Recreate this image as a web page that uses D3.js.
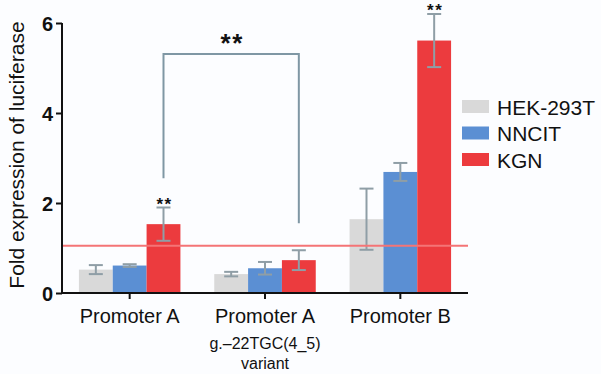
<!DOCTYPE html>
<html>
<head>
<meta charset="utf-8">
<script src="https://cdn.jsdelivr.net/npm/d3@7"></script>
<style>
  body { margin: 0; background: #fcfdff; }
  text { font-family: "Liberation Sans", Arial, sans-serif; }
</style>
</head>
<body>
<div id="chart"></div>
<script>
// data
var categories = ["Promoter A", "Promoter A variant", "Promoter B"];
var catLines = [["Promoter A"], ["Promoter A", "g.\u201322TGC(4_5)", "variant"], ["Promoter B"]];
var series = ["HEK-293T", "NNCIT", "KGN"];
var colors = ["#d9d9d9", "#5b8fd3", "#ec3b3e"];
var hekVals = [0.52, 0.42, 1.64];
var hekErr = [0.10, 0.05, 0.68];
var nncitVals = [0.61, 0.55, 2.69];
var nncitErr = [0.03, 0.14, 0.20];
var kgnVals = [1.53, 0.73, 5.61];
var kgnErr = [0.37, 0.22, 0.59];
var yTicks = [0, 2, 4, 6];
var refLine = 1.05;
// significance marks on the KGN bars
var starCats = ["Promoter A", "Promoter B"];
// bracket between KGN bars: left foot, top, right foot (values)
var bracket = {from: "Promoter A", to: "Promoter A variant", leftFoot: 2.55, top: 5.31, rightFoot: 1.55};

function init() {
    var w = 601, h = 374;
    var vals = [hekVals, nncitVals, kgnVals];
    var errs = [hekErr, nncitErr, kgnErr];

    var svg = d3.select("#chart").append("svg")
        .attr("width", w).attr("height", h);

    var x = d3.scaleBand()
        .domain(categories)
        .range([62, 468])
        .paddingInner(0.25)
        .paddingOuter(0.125);

    var xs = d3.scaleBand()
        .domain(series)
        .range([0, x.bandwidth()]);

    var y = d3.scaleLinear()
        .domain([0, 6])
        .range([293, 23]);

    // bars
    var rows = [];
    categories.forEach(function(c, i) {
        series.forEach(function(s, j) {
            rows.push({cat: c, ser: s, j: j, v: vals[j][i], e: errs[j][i]});
        });
    });

    svg.selectAll("rect.bar")
        .data(rows)
        .enter()
        .append("rect")
        .attr("class", "bar")
        .attr("x", function(d) { return x(d.cat) + xs(d.ser); })
        .attr("y", function(d) { return y(d.v); })
        .attr("width", xs.bandwidth())
        .attr("height", function(d) { return y(0) - y(d.v); })
        .attr("fill", function(d) { return colors[d.j]; });

    // error bars
    var eb = svg.selectAll("g.err")
        .data(rows)
        .enter()
        .append("g")
        .attr("stroke", "#8f9ea6")
        .attr("stroke-width", 2);
    eb.append("line")
        .attr("x1", function(d) { return x(d.cat) + xs(d.ser) + xs.bandwidth() / 2; })
        .attr("x2", function(d) { return x(d.cat) + xs(d.ser) + xs.bandwidth() / 2; })
        .attr("y1", function(d) { return y(d.v - d.e); })
        .attr("y2", function(d) { return y(d.v + d.e); });
    [-1, 1].forEach(function(sg) {
        eb.append("line")
            .attr("x1", function(d) { return x(d.cat) + xs(d.ser) + xs.bandwidth() / 2 - 7; })
            .attr("x2", function(d) { return x(d.cat) + xs(d.ser) + xs.bandwidth() / 2 + 7; })
            .attr("y1", function(d) { return y(d.v + sg * d.e); })
            .attr("y2", function(d) { return y(d.v + sg * d.e); });
    });

    // reference line
    svg.append("line")
        .attr("x1", 62).attr("x2", 468)
        .attr("y1", y(refLine)).attr("y2", y(refLine))
        .attr("stroke", "#f47476")
        .attr("stroke-width", 1.8);

    // axes
    var yAxis = d3.axisLeft(y).tickValues(yTicks).tickSize(6).tickFormat(d3.format("d"));
    var gy = svg.append("g")
        .attr("transform", "translate(62,0)")
        .call(yAxis);
    gy.select(".domain").attr("stroke", "#111").attr("stroke-width", 2).attr("d", "M0," + y(6) + "V" + y(0));
    gy.selectAll(".tick line").attr("stroke", "#111").attr("stroke-width", 2);
    gy.selectAll(".tick text")
        .attr("x", -9)
        .attr("dy", "0.36em")
        .style("font-size", "20px")
        .style("font-weight", "bold")
        .attr("fill", "#111");

    var xAxis = d3.axisBottom(x).tickSize(6).tickFormat("");
    var gx = svg.append("g")
        .attr("transform", "translate(0," + y(0) + ")")
        .call(xAxis);
    gx.select(".domain").attr("stroke", "#111").attr("stroke-width", 2).attr("d", "M61,0H468");
    gx.selectAll(".tick line").attr("stroke", "#111").attr("stroke-width", 2);

    // category labels
    categories.forEach(function(c, i) {
        var t = svg.append("g").attr("fill", "#111");
        catLines[i].forEach(function(line, k) {
            t.append("text")
                .attr("x", x(c) + x.bandwidth() / 2)
                .attr("y", k == 0 ? 323 : 349 + (k - 1) * 20)
                .attr("text-anchor", "middle")
                .style("font-size", k == 0 ? "20px" : "16px")
                .text(line);
        });
    });

    // y label
    svg.append("text")
        .attr("transform", "translate(24," + 155 + ") rotate(-90)")
        .attr("text-anchor", "middle")
        .style("font-size", "21px")
        .attr("fill", "#111")
        .text("Fold expression of luciferase");

    // stars over KGN bars
    var kgnCenter = function(c) { return x(c) + xs("KGN") + xs.bandwidth() / 2; };
    starCats.forEach(function(c) {
        var i = categories.indexOf(c);
        svg.append("text")
            .attr("x", kgnCenter(c) + 1)
            .attr("y", y(kgnVals[i] + kgnErr[i]) + 2)
            .attr("text-anchor", "middle")
            .style("font-size", "17px")
            .style("font-weight", "bold")
            .style("letter-spacing", "1.5px")
            .attr("fill", "#111")
            .text("**");
    });

    // bracket
    var bx1 = kgnCenter(bracket.from), bx2 = kgnCenter(bracket.to);
    svg.append("path")
        .attr("d", "M" + bx1 + "," + y(bracket.leftFoot) + "V" + y(bracket.top) + "H" + bx2 + "V" + y(bracket.rightFoot))
        .attr("fill", "none")
        .attr("stroke", "#7f97a4")
        .attr("stroke-width", 2);
    svg.append("text")
        .attr("x", (bx1 + bx2) / 2 + 1)
        .attr("y", y(bracket.top) - 2)
        .attr("text-anchor", "middle")
        .style("font-size", "26px")
        .style("font-weight", "bold")
        .style("letter-spacing", "1.5px")
        .attr("fill", "#111")
        .text("**");

    // legend
    var lg = svg.selectAll("g.legend")
        .data(series)
        .enter()
        .append("g")
        .attr("transform", function(d, i) { return "translate(462," + (100 + i * 26.5) + ")"; });
    lg.append("rect")
        .attr("width", 27).attr("height", 13)
        .attr("fill", function(d, i) { return colors[i]; });
    lg.append("text")
        .attr("x", 35).attr("y", 7)
        .attr("dy", "0.36em")
        .style("font-size", "21px")
        .attr("fill", "#111")
        .text(function(d) { return d; });
}

window.onload = init;
</script>
</body>
</html>
